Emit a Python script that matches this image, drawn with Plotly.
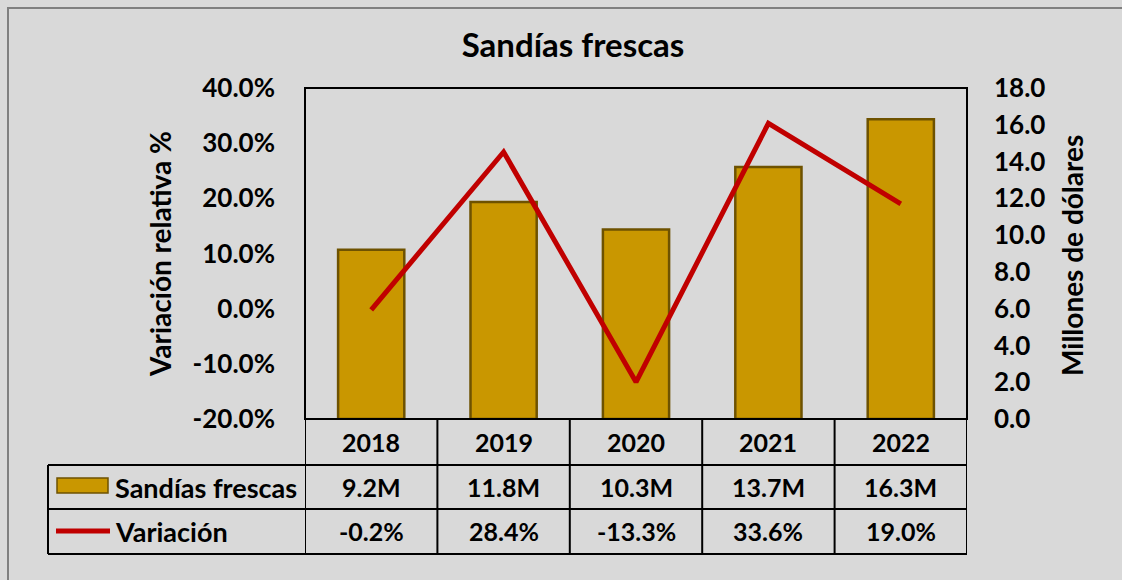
import plotly.graph_objects as go

years = ["2018", "2019", "2020", "2021", "2022"]
ventas = [9.2, 11.8, 10.3, 13.7, 16.3]          # millones de dólares
variacion = [-0.2, 28.4, -13.3, 33.6, 19.0]     # %
ventas_lbl = ["9.2M", "11.8M", "10.3M", "13.7M", "16.3M"]
var_lbl = ["-0.2%", "28.4%", "-13.3%", "33.6%", "19.0%"]
pct_ticks = [-20, -10, 0, 10, 20, 30, 40]
pct_tick_lbl = ["-20.0%", "-10.0%", "0.0%", "10.0%", "20.0%", "30.0%", "40.0%"]

W, H = 1122, 580
L, R, T, B = 305, 967, 88, 419


def px(xp):
    return (xp - L) / (R - L)


def py(yp):
    return (B - yp) / (B - T)


FONT = "Lato"
GOLD = "#C99700"
EDGE = "#6E5200"
RED = "#C00000"
INK = "#000000"

fig = go.Figure()
fig.add_trace(go.Bar(
    x=list(range(len(years))), y=ventas, yaxis="y", width=0.5,
    marker=dict(color=GOLD, line=dict(color=EDGE, width=2.5)),
    name="Sandías frescas", showlegend=False,
))
fig.add_trace(go.Scatter(
    x=list(range(len(years))), y=variacion, yaxis="y2", mode="lines",
    line=dict(color=RED, width=5), name="Variación", showlegend=False,
))

shapes = []
# outer frame
shapes.append(dict(type="rect", xref="paper", yref="paper",
                   x0=px(8), x1=px(1140), y0=py(8), y1=py(600),
                   line=dict(color="#7F7F7F", width=2), layer="below"))
# plot box
shapes.append(dict(type="rect", xref="paper", yref="paper", x0=0, x1=1, y0=0, y1=1,
                   line=dict(color="black", width=2)))
# table lines
for yy in [465, 509, 554]:
    shapes.append(dict(type="line", xref="paper", yref="paper",
                       x0=px(48), x1=1, y0=py(yy), y1=py(yy),
                       line=dict(color="black", width=2)))
for k in range(len(years) + 1):
    shapes.append(dict(type="line", xref="x", yref="paper",
                       x0=k - 0.5, x1=k - 0.5, y0=py(B), y1=py(554),
                       line=dict(color="black", width=2)))
shapes.append(dict(type="line", xref="paper", yref="paper",
                   x0=px(48), x1=px(48), y0=py(465), y1=py(554),
                   line=dict(color="black", width=2)))
# legend keys
shapes.append(dict(type="rect", xref="paper", yref="paper",
                   x0=px(57), x1=px(108), y0=py(478), y1=py(493),
                   fillcolor=GOLD, line=dict(color=EDGE, width=1.5)))
shapes.append(dict(type="line", xref="paper", yref="paper",
                   x0=px(56), x1=px(110), y0=py(531), y1=py(531),
                   line=dict(color=RED, width=5)))

tf = dict(family=FONT, size=25, color=INK, weight="bold")
lf = dict(family=FONT, size=27, color=INK, weight="bold")
ann = []
for i, yr in enumerate(years):
    for txt, yy in ((yr, 442), (ventas_lbl[i], 487), (var_lbl[i], 531)):
        ann.append(dict(x=i, xref="x", y=py(yy), yref="paper", text=txt,
                        xanchor="center", yanchor="middle", showarrow=False, font=tf))
ann.append(dict(x=px(113), xref="paper", y=py(487), yref="paper", text="Sandías frescas",
                xanchor="left", yanchor="middle", showarrow=False, font=lf))
ann.append(dict(x=px(113), xref="paper", y=py(531), yref="paper", text="Variación",
                xanchor="left", yanchor="middle", showarrow=False, font=lf))
atf = dict(family=FONT, size=28, color=INK, weight="bold")
ann.append(dict(x=px(160), xref="paper", y=py(254), yref="paper", text="Variación relativa %",
                textangle=-90, xanchor="center", yanchor="middle", showarrow=False, font=atf))
ann.append(dict(x=px(1072), xref="paper", y=py(256), yref="paper", text="Millones de dólares",
                textangle=-90, xanchor="center", yanchor="middle", showarrow=False, font=atf))

tickfont = dict(family=FONT, size=26, color=INK, weight="bold")
fig.update_layout(
    width=W, height=H, autosize=False,
    margin=dict(l=L, r=W - R, t=T, b=H - B, pad=0),
    paper_bgcolor="#D9D9D9", plot_bgcolor="#D9D9D9",
    title=dict(text="Sandías frescas", x=(463 + 683) / 2 / W, xanchor="center",
               y=1 - 45 / H, yanchor="middle",
               font=dict(family=FONT, size=33, color=INK, weight="bold")),
    xaxis=dict(range=[-0.5, 4.5], showticklabels=False, showgrid=False, zeroline=False,
               showline=False, fixedrange=True),
    yaxis=dict(range=[0, 18], dtick=2, tickformat=".1f", side="right",
               showgrid=False, zeroline=False, showline=False,
               tickfont=tickfont, ticklabelstandoff=26),
    yaxis2=dict(range=[-20, 40], tickvals=pct_ticks, ticktext=pct_tick_lbl, side="left",
                overlaying="y", showgrid=False, zeroline=False, showline=False,
                tickfont=tickfont, ticklabelstandoff=29),
    shapes=shapes, annotations=ann, bargap=0.5,
)

fig.write_html("out.html", config={"displayModeBar": False},
               post_script="document.body.style.margin='0px';")
